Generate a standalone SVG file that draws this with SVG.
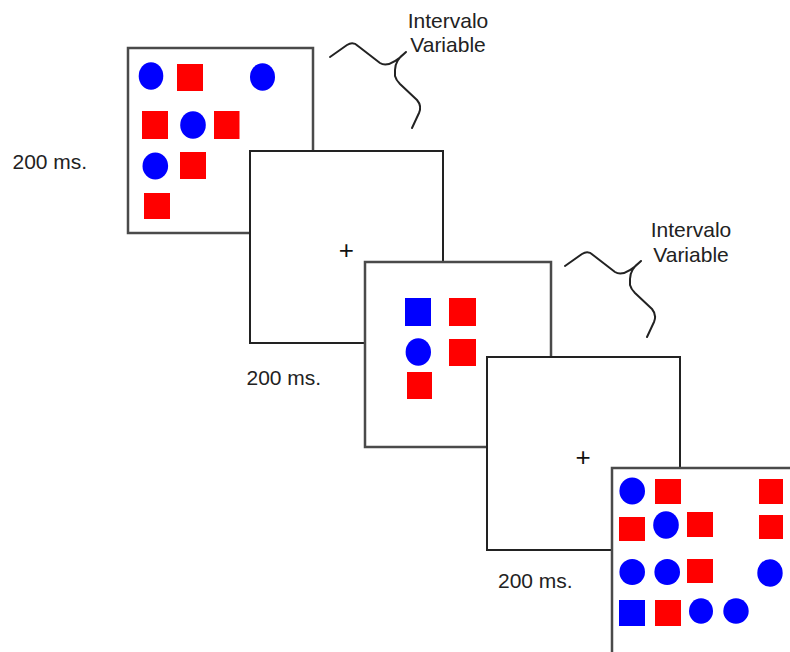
<svg xmlns="http://www.w3.org/2000/svg" width="790" height="652" viewBox="0 0 790 652">
<style>
.stim{fill:#fff;stroke:#4a4a4a;stroke-width:2.5}
.fix{fill:#fff;stroke:#222;stroke-width:2}
.r{fill:#ff0000}
.b{fill:#0000ff}
.t{font-family:"Liberation Sans",Arial,sans-serif;font-size:21px;fill:#222}
.plus{font-family:"Liberation Sans",Arial,sans-serif;font-size:26px;fill:#111;text-anchor:middle}
.brace{fill:none;stroke:#222;stroke-width:2;stroke-linecap:round;stroke-linejoin:round}
</style>
<defs>
<path id="brace" class="brace" d="M330,57 L347,45 Q353,41 358,46 L380,63 Q389,69 406,52 Q395,60 395,70 L395,76 Q396,80 400,84 L417,100 Q422,106 419,113 L412,128"/>
</defs>
<rect width="790" height="652" fill="#fff"/>

<g id="label-200ms-1"><text class="t" x="12.5" y="169">200 ms.</text></g>

<g id="frame1">
<rect class="stim" x="128" y="48" width="185" height="185"/>
<ellipse class="b" cx="151" cy="76" rx="12.3" ry="13.8"/>
<rect class="r" x="177" y="64" width="26" height="27"/>
<ellipse class="b" cx="262.5" cy="77" rx="12.5" ry="13.8"/>
<rect class="r" x="142" y="111" width="26" height="28"/>
<ellipse class="b" cx="193" cy="125" rx="12.8" ry="13.8"/>
<rect class="r" x="214" y="111" width="25.5" height="28"/>
<ellipse class="b" cx="155.3" cy="166" rx="12.8" ry="13.5"/>
<rect class="r" x="180" y="152" width="26" height="27"/>
<rect class="r" x="144" y="193" width="26" height="26"/>
</g>

<g id="brace1">
<use href="#brace"/>
<text class="t" x="448" y="28" text-anchor="middle">Intervalo</text>
<text class="t" x="448" y="52" text-anchor="middle">Variable</text>
</g>

<g id="frame2">
<rect class="fix" x="250" y="151" width="193" height="192"/>
<text class="plus" x="346.3" y="259">+</text>
</g>

<g id="label-200ms-2"><text class="t" x="246.5" y="385">200 ms.</text></g>

<g id="frame3">
<rect class="stim" x="365" y="262" width="186" height="185"/>
<rect class="b" x="405" y="298" width="26" height="28"/>
<rect class="r" x="449" y="298" width="27" height="28"/>
<ellipse class="b" cx="418.3" cy="352" rx="12.7" ry="13.8"/>
<rect class="r" x="449" y="339" width="27" height="27"/>
<rect class="r" x="407" y="372" width="25" height="27"/>
</g>

<g id="brace2">
<use href="#brace" transform="translate(235,209)"/>
<text class="t" x="691" y="237" text-anchor="middle">Intervalo</text>
<text class="t" x="691" y="262" text-anchor="middle">Variable</text>
</g>

<g id="frame4">
<rect class="fix" x="487" y="357" width="193" height="193"/>
<text class="plus" x="583" y="466">+</text>
</g>

<g id="label-200ms-3"><text class="t" x="498" y="588">200 ms.</text></g>

<g id="frame5">
<rect class="stim" x="612" y="468" width="193" height="193"/>
<ellipse class="b" cx="632.2" cy="491" rx="12.8" ry="13.5"/>
<rect class="r" x="655" y="479" width="26" height="25"/>
<rect class="r" x="759" y="479" width="24" height="25"/>
<rect class="r" x="619" y="517" width="26" height="24"/>
<ellipse class="b" cx="666" cy="525" rx="12.8" ry="13.7"/>
<rect class="r" x="687" y="512" width="26" height="25"/>
<rect class="r" x="759" y="515" width="24" height="24"/>
<ellipse class="b" cx="632.2" cy="572" rx="12.8" ry="13"/>
<ellipse class="b" cx="667.2" cy="572" rx="12.8" ry="13"/>
<rect class="r" x="687" y="559" width="26" height="24"/>
<ellipse class="b" cx="770" cy="573" rx="12.7" ry="13.8"/>
<rect class="b" x="619" y="600" width="26" height="26"/>
<rect class="r" x="655" y="600" width="26" height="26"/>
<ellipse class="b" cx="701" cy="611" rx="12" ry="12.8"/>
<ellipse class="b" cx="736" cy="611" rx="12.7" ry="12.8"/>
</g>
</svg>
